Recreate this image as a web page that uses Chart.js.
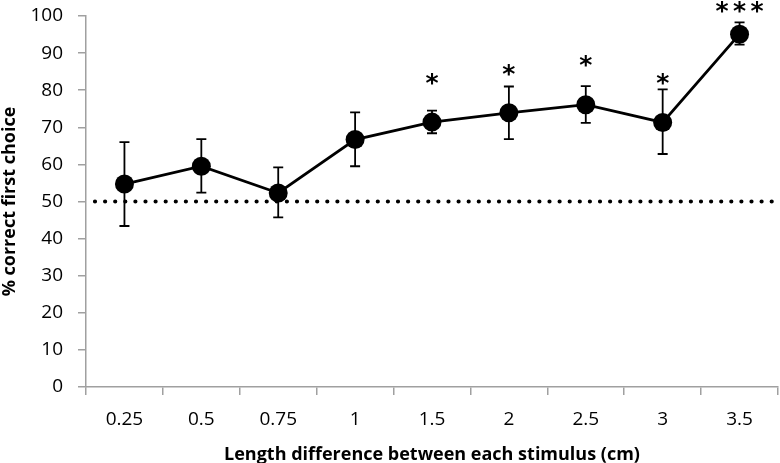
<!DOCTYPE html>
<html><head><meta charset="utf-8">
<script src="https://cdn.jsdelivr.net/npm/chart.js@4"></script>
<style>html,body{margin:0;padding:0;background:#fff}#wrap{width:780px;height:463px}</style>
</head><body><div id="wrap"><canvas id="c" width="780" height="463"></canvas></div>
<script>
const categories = ["0.25","0.5","0.75","1","1.5","2","2.5","3","3.5"];
const meanCorrect = [54.7,59.5,52.3,66.7,71.4,73.9,76.1,71.3,95.1];
const errUpper = [66.0,66.8,59.2,74.0,74.5,81.0,81.1,80.2,98.3];
const errLower = [43.4,52.4,45.7,59.5,68.4,66.8,71.2,62.8,92.3];
const sigLabels = ["","","","","*","*","*","*","***"];
const sigLabelY = [null,null,null,null,82.7,85.1,87.6,82.7,102.0];
const chanceLevel = 50;
const yMin = 0, yMax = 100, yStep = 10;

const FONT = "'Open Sans', sans-serif";
const STAR_FONT = "bold 25px 'DejaVu Sans', sans-serif";

const chancePlugin = {
  id: 'chance',
  beforeDatasetsDraw(chart) {
    const {ctx, chartArea, scales} = chart;
    const y = scales.y.getPixelForValue(chanceLevel);
    ctx.save();
    ctx.strokeStyle = '#000';
    ctx.lineWidth = 4.2;
    ctx.lineCap = 'round';
    ctx.setLineDash([0, 10.1]);
    ctx.beginPath();
    ctx.moveTo(chartArea.left + 9, y);
    ctx.lineTo(chartArea.right, y);
    ctx.stroke();
    ctx.restore();
  }
};

const errPlugin = {
  id: 'errbars',
  beforeDatasetsDraw(chart) {
    const {ctx, scales} = chart;
    ctx.save();
    ctx.strokeStyle = '#000';
    ctx.lineWidth = 1.8;
    categories.forEach((c, i) => {
      const x = scales.x.getPixelForValue(i);
      const yt = scales.y.getPixelForValue(errUpper[i]);
      const yb = scales.y.getPixelForValue(errLower[i]);
      ctx.beginPath();
      ctx.moveTo(x, yt); ctx.lineTo(x, yb);
      ctx.moveTo(x - 5, yt); ctx.lineTo(x + 5, yt);
      ctx.moveTo(x - 5, yb); ctx.lineTo(x + 5, yb);
      ctx.stroke();
    });
    ctx.restore();
  },
  afterDatasetsDraw(chart) {
    const {ctx, scales} = chart;
    ctx.save();
    ctx.fillStyle = '#000';
    ctx.font = STAR_FONT;
    ctx.textAlign = 'left';
    ctx.textBaseline = 'middle';
    const ls = 4.5;
    ctx.letterSpacing = ls + 'px';
    sigLabels.forEach((s, i) => {
      if (!s) return;
      const x = scales.x.getPixelForValue(i);
      const y = scales.y.getPixelForValue(sigLabelY[i]);
      const w = ctx.measureText(s).width - ls;
      ctx.fillText(s, x - w / 2, y + 4);
    });
    ctx.restore();
  }
};

new Chart(document.getElementById('c'), {
  type: 'line',
  data: {
    labels: categories,
    datasets: [{
      data: meanCorrect,
      borderColor: '#000',
      backgroundColor: '#000',
      borderWidth: 2.8,
      pointRadius: 9.5,
      pointHoverRadius: 9.5,
      pointBackgroundColor: '#000',
      pointBorderWidth: 0,
      tension: 0,
      clip: false
    }]
  },
  options: {
    responsive: false,
    animation: false,
    devicePixelRatio: 1,
    layout: {autoPadding: false, padding: {top: 16, right: 2, left: 0, bottom: 0}},
    plugins: {legend: {display: false}, tooltip: {enabled: false}},
    scales: {
      x: {
        type: 'category',
        offset: true,
        afterFit(scale) { scale.height = 76; scale.paddingLeft = 0; scale.paddingRight = 0; },
        grid: {display: true, drawOnChartArea: false, drawTicks: true, tickLength: 8, color: '#a0a0a0', offset: true, lineWidth: 1.5},
        border: {display: true, color: '#a0a0a0', width: 1.5},
        ticks: {color: '#000', font: {family: FONT, size: 19}, padding: 13, maxRotation: 0},
        title: {display: true, text: 'Length difference between each stimulus (cm)', color: '#000', font: {family: FONT, size: 18, weight: 'bold'}, padding: {top: 10, bottom: -3}}
      },
      y: {
        min: yMin, max: yMax,
        afterFit(scale) { scale.width = 86; scale.paddingTop = 0; scale.paddingBottom = 0; },
        ticks: {stepSize: yStep, color: '#000', font: {family: FONT, size: 19}, padding: 15},
        grid: {display: true, drawOnChartArea: false, drawTicks: true, tickLength: 8, color: '#a0a0a0', lineWidth: 1.5},
        border: {display: true, color: '#a0a0a0', width: 1.5},
        title: {display: true, text: '% correct first choice', color: '#000', font: {family: FONT, size: 18, weight: 'bold'}, padding: {top: -1, bottom: 0}}
      }
    }
  },
  plugins: [chancePlugin, errPlugin]
});
</script></body></html>
